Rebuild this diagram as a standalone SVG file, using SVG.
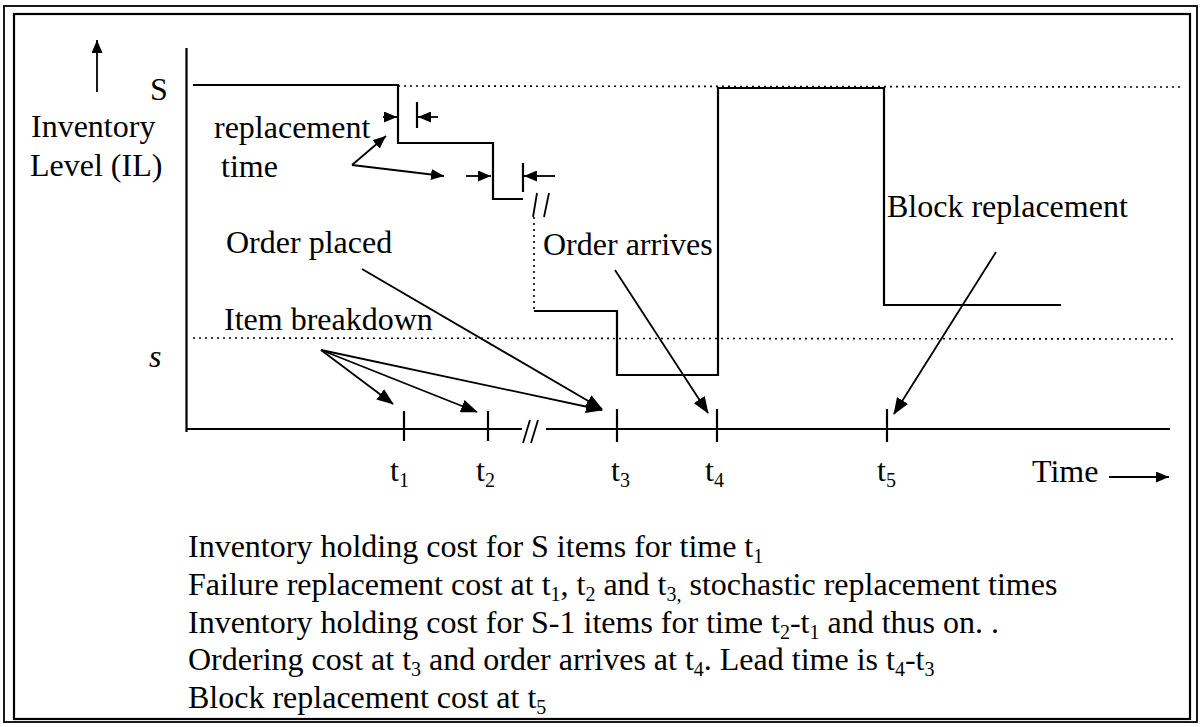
<svg xmlns="http://www.w3.org/2000/svg" width="1200" height="727" viewBox="0 0 1200 727">
<style>
text{font-family:"Liberation Serif","Times New Roman",serif;font-size:32px;fill:#000}
.sub{font-size:20px}
.ln{stroke:#000;stroke-width:2.2;fill:none}
.th{stroke:#000;stroke-width:1.8;fill:none}
.dot{stroke:#000;stroke-width:1.6;fill:none;stroke-dasharray:2 4}
</style>
<defs>
<marker id="ah" markerUnits="userSpaceOnUse" markerWidth="17" markerHeight="13" refX="16" refY="6.5" orient="auto"><path d="M0,0 L17,6.5 L0,13 Z" fill="#000"/></marker>
<marker id="as" markerUnits="userSpaceOnUse" markerWidth="13" markerHeight="11" refX="13" refY="5.5" orient="auto"><path d="M0,0 L13,5.5 L0,11 Z" fill="#000"/></marker>
</defs>
<rect x="0" y="0" width="1200" height="727" fill="#fff"/>
<g id="frame">
<rect x="4" y="6" width="1193" height="716" class="th"/>
<rect x="14" y="14" width="1176" height="705" class="ln"/>
</g>
<g id="axes">
<line x1="186.5" y1="48" x2="186.5" y2="432" class="ln"/>
<line x1="186" y1="429" x2="522" y2="429" class="ln"/>
<line x1="546" y1="429" x2="1170" y2="429" class="ln"/>
<line x1="530" y1="420" x2="523" y2="443" class="th"/>
<line x1="538" y1="420" x2="531" y2="443" class="th"/>
<line x1="404" y1="411" x2="404" y2="441" class="ln"/>
<line x1="488" y1="411" x2="488" y2="441" class="ln"/>
<line x1="617" y1="409" x2="617" y2="442" class="ln"/>
<line x1="717" y1="409" x2="717" y2="442" class="ln"/>
<line x1="887" y1="409" x2="887" y2="442" class="ln"/>
</g>
<g id="levels">
<line x1="398" y1="86" x2="1180" y2="87" class="dot"/>
<line x1="193" y1="338" x2="1174" y2="339" class="dot"/>
</g>
<g id="inventory-curve">
<path d="M193,85 H398 V143 H493 V199 H523" class="ln"/>
<line x1="534" y1="217" x2="534" y2="310" class="dot"/>
<path d="M534,311 H617 V375 H718 V88 H884 V305 H1061" class="ln"/>
<line x1="537" y1="193" x2="533" y2="217" class="th"/>
<line x1="549" y1="193" x2="544" y2="217" class="th"/>
</g>
<g id="connectors">
<line x1="97" y1="92" x2="97" y2="40" class="th" marker-end="url(#as)"/>
<line x1="383" y1="117" x2="397" y2="117" class="th" marker-end="url(#as)"/>
<line x1="417" y1="102" x2="417" y2="128" class="ln"/>
<line x1="438" y1="117" x2="418" y2="117" class="th" marker-end="url(#as)"/>
<line x1="466" y1="176" x2="491" y2="176" class="th" marker-end="url(#as)"/>
<line x1="523" y1="163" x2="523" y2="192" class="ln"/>
<line x1="555" y1="176" x2="524" y2="176" class="th" marker-end="url(#as)"/>
<line x1="352" y1="165" x2="386" y2="136" class="th" marker-end="url(#as)"/>
<line x1="352" y1="165" x2="444" y2="176" class="th" marker-end="url(#as)"/>
<line x1="362" y1="269" x2="602" y2="409" class="th" marker-end="url(#ah)"/>
<line x1="321" y1="350" x2="393" y2="404" class="th" marker-end="url(#ah)"/>
<line x1="321" y1="350" x2="477" y2="412" class="th" marker-end="url(#ah)"/>
<line x1="321" y1="350" x2="602" y2="410" class="th" marker-end="url(#ah)"/>
<line x1="615" y1="270" x2="708" y2="413" class="th" marker-end="url(#ah)"/>
<line x1="996" y1="252" x2="894" y2="414" class="th" marker-end="url(#ah)"/>
<line x1="1109" y1="477" x2="1169" y2="477" class="th" marker-end="url(#as)"/>
</g>
<g id="labels">
<text x="150" y="100">S</text>
<text x="31" y="137">Inventory</text>
<text x="30" y="176">Level (IL)</text>
<text x="149" y="367" font-style="italic">s</text>
<text x="214" y="138">replacement</text>
<text x="221" y="177">time</text>
<text x="226" y="253">Order placed</text>
<text x="543" y="255">Order arrives</text>
<text x="887" y="217">Block replacement</text>
<text x="224" y="330">Item breakdown</text>
<text x="390" y="481">t<tspan class="sub" dy="6">1</tspan></text>
<text x="476" y="481">t<tspan class="sub" dy="6">2</tspan></text>
<text x="611" y="481">t<tspan class="sub" dy="6">3</tspan></text>
<text x="705" y="481">t<tspan class="sub" dy="6">4</tspan></text>
<text x="877" y="481">t<tspan class="sub" dy="6">5</tspan></text>
<text x="1032" y="482">Time</text>
</g>
<g id="notes">
<text x="188" y="557">Inventory holding cost for S items for time t<tspan class="sub" dy="6">1</tspan></text>
<text x="188" y="595">Failure replacement cost at t<tspan class="sub" dy="6">1</tspan><tspan dy="-6">, t</tspan><tspan class="sub" dy="6">2</tspan><tspan dy="-6"> and t</tspan><tspan class="sub" dy="6">3,</tspan><tspan dy="-6"> stochastic replacement times</tspan></text>
<text x="188" y="633">Inventory holding cost for S-1 items for time t<tspan class="sub" dy="6">2</tspan><tspan dy="-6">-t</tspan><tspan class="sub" dy="6">1</tspan><tspan dy="-6">  and thus on. .</tspan></text>
<text x="188" y="670">Ordering cost at t<tspan class="sub" dy="6">3</tspan><tspan dy="-6"> and order arrives at t</tspan><tspan class="sub" dy="6">4</tspan><tspan dy="-6">. Lead time is t</tspan><tspan class="sub" dy="6">4</tspan><tspan dy="-6">-t</tspan><tspan class="sub" dy="6">3</tspan></text>
<text x="188" y="708">Block replacement cost at t<tspan class="sub" dy="6">5</tspan></text>
</g>
</svg>
